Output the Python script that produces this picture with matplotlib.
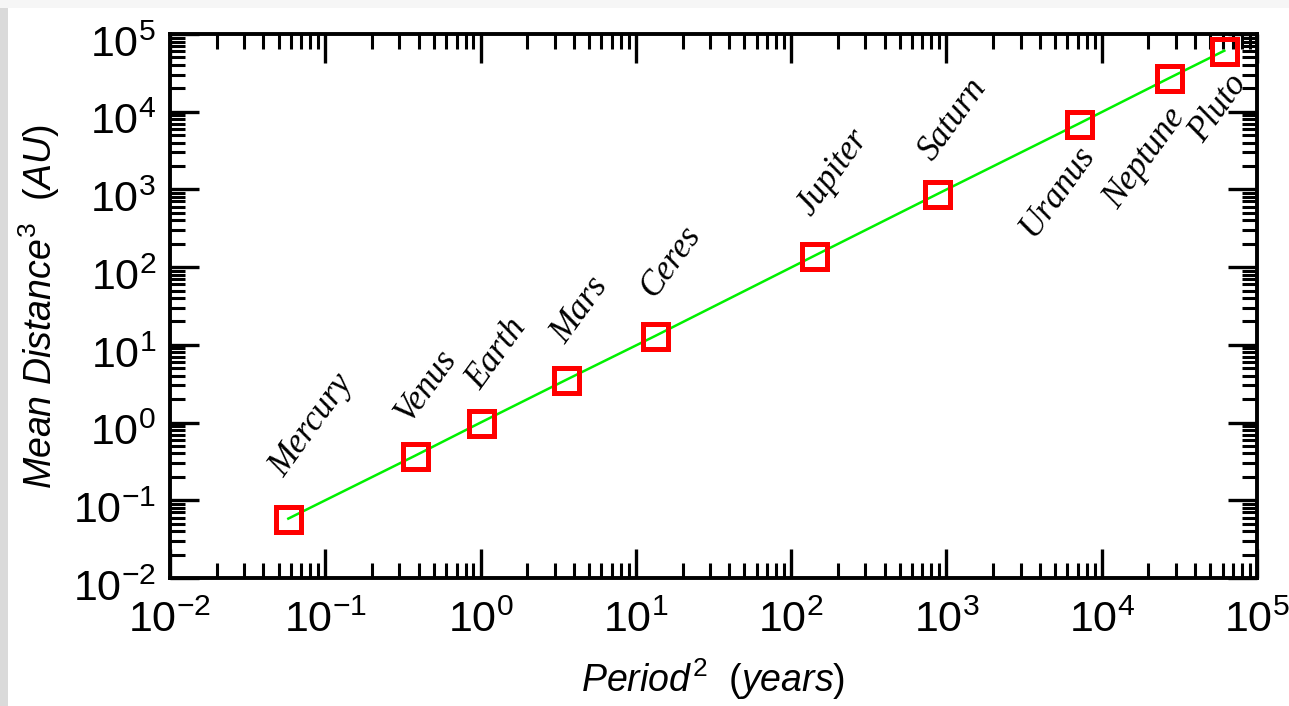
import numpy as np
import matplotlib.pyplot as plt
from matplotlib.patches import Rectangle
from matplotlib.transforms import ScaledTranslation
from matplotlib.ticker import FixedLocator, FuncFormatter, NullFormatter

plt.rcParams["mathtext.fontset"] = "custom"
plt.rcParams["mathtext.rm"] = "Liberation Sans"
plt.rcParams["mathtext.it"] = "Liberation Sans:italic"
plt.rcParams["font.family"] = ["Liberation Sans", "DejaVu Sans"]

# Planet data: period^2 (years^2) vs mean distance^3 (AU^3)
planets = ["Mercury", "Venus", "Earth", "Mars", "Ceres", "Jupiter",
           "Saturn", "Uranus", "Neptune", "Pluto"]
period_sq = [0.0578, 0.376, 1.0, 3.54, 13.3, 140.0, 870.0, 7100.0, 27300.0, 61600.0]
distance_cu = [0.0581, 0.372, 1.0, 3.53, 13.0, 139.0, 868.0, 7000.0, 27200.0, 61000.0]

# decade exponents shown on both axes
exponents = [-2, -1, 0, 1, 2, 3, 4, 5]

# label offsets in points (most sit above-left, outer ones below-left)
label_offsets = [(-3, 29), (-4, 23), (0, 23), (0, 25), (-1, 27),
                 (-2, 28), (-3, 23), (-32, -82), (-37, -95), (-15, -67)]

fig = plt.figure(figsize=(12.89, 7.06), dpi=100)
fig.patch.set_facecolor("white")

# thin grey frame strips seen on the left and top of the original
fig.patches.append(Rectangle((0, 0), 8 / 1289, 1, transform=fig.transFigure,
                             facecolor="#dadada", edgecolor="none", zorder=0))
fig.patches.append(Rectangle((0, 1 - 8 / 706), 1, 8 / 706, transform=fig.transFigure,
                             facecolor="#f6f6f6", edgecolor="none", zorder=0))

ax = fig.add_axes([170 / 1289, 1 - 578 / 706, 1087 / 1289, 544 / 706])

ax.plot(period_sq, distance_cu, color="#00f000", lw=1.8, zorder=2)
ax.plot(period_sq, distance_cu, ls="none", marker="s", ms=18, mew=3.6,
        mec="#ff0000", mfc="none", zorder=3)

for name, x, y, off in zip(planets, period_sq, distance_cu, label_offsets):
    ax.annotate(name, (x, y), xytext=off, textcoords="offset points",
                rotation=54, rotation_mode="anchor", ha="left", va="baseline",
                family="Liberation Serif", style="italic", fontsize=25)

ax.set_xscale("log")
ax.set_yscale("log")
ax.set_xlim(10.0 ** exponents[0], 10.0 ** exponents[-1])
ax.set_ylim(10.0 ** exponents[0], 10.0 ** exponents[-1])

majors = [10.0 ** e for e in exponents]
minors = [m * 10.0 ** e for e in exponents[:-1] for m in range(2, 10)]
for a in (ax.xaxis, ax.yaxis):
    a.set_major_locator(FixedLocator(majors))
    a.set_minor_locator(FixedLocator(minors))
    a.set_major_formatter(FuncFormatter(lambda v, p: r"$10^{%d}$" % round(np.log10(v))))
    a.set_minor_formatter(NullFormatter())

ax.tick_params(which="both", direction="in", top=True, right=True, color="black")
ax.tick_params(which="major", length=21, width=2.4, labelsize=31, pad=10)
ax.tick_params(axis="x", which="major", pad=16)
ax.tick_params(which="minor", length=10.5, width=2.2)
for s in ax.spines.values():
    s.set_linewidth(2.8)

# y tick labels sit a little below their ticks in the original
shift = ScaledTranslation(0, -5 / 72, fig.dpi_scale_trans)
for lab in ax.get_yticklabels():
    lab.set_transform(lab.get_transform() + shift)

ax.set_xlabel(r"$\mathit{Period}^{2}\ \ \mathit{(years)}$", fontsize=27)
ax.set_ylabel(r"$\mathit{Mean\ Distance}^{3}\ \ \mathit{(AU)}$", fontsize=27)
ax.xaxis.set_label_coords(0.5, -0.145)
ax.yaxis.set_label_coords(-0.099, 0.5)

fig.savefig("out.png", dpi=100)
